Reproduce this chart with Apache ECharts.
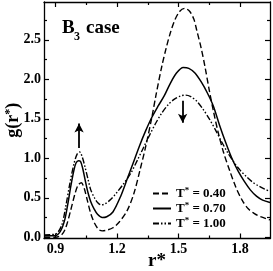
<!DOCTYPE html>
<html><head><meta charset="utf-8">
<script src="https://cdn.jsdelivr.net/npm/echarts@6/dist/echarts.min.js"></script>
<style>html,body{margin:0;padding:0;background:#fff}#c{width:273px;height:271px}</style>
</head><body><div id="c"></div>
<script>
// ---- data ----
const r40 = [0.845,0.9,0.93,0.95,0.974,0.995,1.01,1.026,1.04,1.055,1.072,1.09,1.11,1.128,1.15,1.18,1.21,1.25,1.283,1.312,1.34,1.37,1.39,1.418,1.44,1.459,1.48,1.505,1.53,1.555,1.575,1.589,1.61,1.629,1.65,1.67,1.694,1.72,1.75,1.78,1.81,1.84,1.87,1.90,1.946];
const g40 = [0,0,0.03,0.12,0.34,0.55,0.66,0.69,0.62,0.47,0.30,0.18,0.10,0.08,0.09,0.12,0.19,0.34,0.56,0.85,1.15,1.52,1.80,2.16,2.40,2.58,2.74,2.86,2.90,2.86,2.76,2.62,2.40,2.16,1.86,1.60,1.32,1.07,0.84,0.63,0.47,0.36,0.30,0.26,0.22];
const r70 = [0.845,0.9,0.925,0.945,0.96,0.975,0.99,1.0,1.012,1.022,1.032,1.045,1.058,1.072,1.088,1.105,1.128,1.15,1.18,1.218,1.25,1.283,1.31,1.34,1.37,1.40,1.43,1.46,1.49,1.523,1.55,1.58,1.61,1.64,1.67,1.70,1.73,1.76,1.79,1.82,1.85,1.88,1.91,1.946];
const g70 = [0.02,0.02,0.08,0.22,0.42,0.65,0.85,0.94,0.97,0.96,0.88,0.72,0.57,0.45,0.36,0.29,0.25,0.26,0.32,0.52,0.74,0.97,1.16,1.35,1.52,1.66,1.79,1.95,2.08,2.15,2.14,2.08,1.97,1.83,1.66,1.42,1.20,1.00,0.84,0.71,0.60,0.52,0.47,0.44];
const r100 = [0.845,0.9,0.93,0.95,0.97,0.99,1.005,1.018,1.03,1.045,1.06,1.072,1.09,1.105,1.123,1.14,1.17,1.20,1.23,1.267,1.30,1.33,1.36,1.39,1.42,1.45,1.48,1.51,1.535,1.56,1.59,1.62,1.65,1.68,1.71,1.74,1.77,1.80,1.83,1.86,1.89,1.92,1.946];
const g100 = [0.03,0.04,0.15,0.39,0.68,0.93,1.05,1.08,1.02,0.88,0.72,0.60,0.50,0.44,0.41,0.42,0.48,0.57,0.67,0.81,0.98,1.14,1.30,1.45,1.58,1.68,1.75,1.79,1.80,1.78,1.72,1.62,1.50,1.36,1.21,1.07,0.95,0.85,0.77,0.70,0.65,0.61,0.58];
const seriesNames = ['0.40','0.70','1.00'];
const xMajorTicks = [0.9,1.2,1.5,1.8];
const xMinorTicks = [1.05,1.35,1.65];
const yMajorTicks = [0,0.5,1.0,1.5,2.0,2.5];
const yMinorTicks = [0.25,0.75,1.25,1.75,2.25,2.75];
const arrowUp = [[1.015,1.13],[1.015,1.44]];
const arrowDown = [[1.52,1.73],[1.52,1.45]];
const X_MIN = 0.844, X_MAX = 1.946, Y_MIN = -0.016, Y_MAX = 2.98;

const FONT = '"Liberation Serif","DejaVu Serif",serif';
const zip = (a,b)=>a.map((v,i)=>[v,b[i]]);
const chart = echarts.init(document.getElementById('c'), null, {renderer:'canvas'});

function xAx(pos, ticks, len, showLine, label){
  return {type:'value', min:X_MIN, max:X_MAX, position:pos, gridIndex:0,
    axisLine:{show:showLine, onZero:false, lineStyle:{color:'#000', width:1.3}},
    axisTick:{show:true, inside:true, length:len, customValues:ticks, lineStyle:{color:'#000', width:1.2}},
    axisLabel:label ? {show:true, customValues:xMajorTicks, formatter:v=>v.toFixed(1), color:'#000', fontFamily:FONT, fontWeight:'bold', fontSize:14, margin:4} : {show:false},
    splitLine:{show:false}};
}
function yAx(pos, ticks, len, showLine, label){
  return {type:'value', min:Y_MIN, max:Y_MAX, position:pos, gridIndex:0,
    axisLine:{show:showLine, onZero:false, lineStyle:{color:'#000', width:1.3}},
    axisTick:{show:true, inside:true, length:len, customValues:ticks, lineStyle:{color:'#000', width:1.2}},
    axisLabel:label ? {show:true, customValues:yMajorTicks, formatter:v=>v.toFixed(1), color:'#000', fontFamily:FONT, fontWeight:'bold', fontSize:14, margin:3} : {show:false},
    splitLine:{show:false}};
}
const xa0 = xAx('bottom', xMajorTicks, 5, true, true);
xa0.name = '{a|r*}';
xa0.nameLocation = 'middle'; xa0.nameGap = 13; xa0.nameMoveOverlap = false;
xa0.nameTextStyle = {rich:{a:{fontFamily:FONT, fontWeight:'bold', fontSize:19, color:'#000'}}};
const ya0 = yAx('left', yMajorTicks, 5, true, true);
ya0.name = '{a|g(r}{s|*}{a|)}';
ya0.nameLocation = 'middle'; ya0.nameGap = 22; ya0.nameMoveOverlap = false;
ya0.nameTextStyle = {rich:{a:{fontFamily:FONT, fontWeight:'bold', fontSize:18, color:'#000'}, s:{fontFamily:FONT, fontWeight:'bold', fontSize:12, color:'#000', verticalAlign:'top', padding:[0,0,6,0]}}};

const styles = [
  {type:[6,3], width:1.4},
  {type:'solid', width:1.5},
  {type:[6,2,1.5,2,1.5,2], width:1.4}
];
const datas = [zip(r40,g40), zip(r70,g70), zip(r100,g100)];
const series = seriesNames.map((n,i)=>({
  name:n, type:'line', xAxisIndex:0, yAxisIndex:0, data:datas[i], smooth:0.3,
  symbol:'circle', showSymbol:false, lineStyle:Object.assign({color:'#000'}, styles[i]), itemStyle:{color:'#000'},
  z:3
}));
series[1].markLine = {silent:true, symbol:['none','arrow'], symbolSize:[7,9],
  lineStyle:{color:'#000', type:'solid', width:1.8}, label:{show:false},
  data:[[{coord:arrowUp[0]},{coord:arrowUp[1]}],[{coord:arrowDown[0]},{coord:arrowDown[1]}]]};

chart.setOption({
  animation:false,
  backgroundColor:'#fff',
  grid:{left:44, top:2, right:3, bottom:32.5, containLabel:false, outerBoundsMode:'none'},
  xAxis:[xa0, xAx('bottom', xMinorTicks, 3, false, false), xAx('top', xMajorTicks, 5, true, false), xAx('top', xMinorTicks, 3, false, false)],
  yAxis:[ya0, yAx('left', yMinorTicks, 3, false, false), yAx('right', yMajorTicks, 5, true, false), yAx('right', yMinorTicks, 3, false, false)],
  legend:{orient:'vertical', left:147, top:181, itemGap:1, itemWidth:18, itemHeight:12,
    data:seriesNames,
    itemStyle:{opacity:0},
    formatter: n => '{t|T}{s|*}{t| = ' + n + '}',
    textStyle:{color:'#000', rich:{t:{fontFamily:FONT, fontWeight:'bold', fontSize:13, color:'#000'}, s:{fontFamily:FONT, fontWeight:'bold', fontSize:9, color:'#000', verticalAlign:'top', padding:[0,0,6,0]}}}},
  graphic:[
    {type:'text', left:62, top:19, style:{text:'B', font:'bold 19px '+FONT, fill:'#000'}},
    {type:'text', left:74, top:31, style:{text:'3', font:'bold 12px '+FONT, fill:'#000'}},
    {type:'text', left:86, top:19, style:{text:'case', font:'bold 19px '+FONT, fill:'#000'}}
  ],
  series:series
});
</script></body></html>
